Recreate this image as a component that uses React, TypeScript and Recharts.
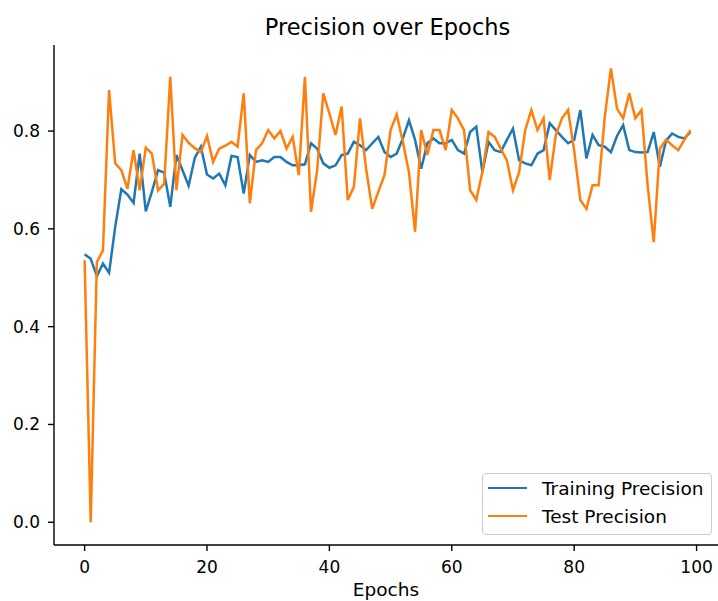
import { Legend, Line, LineChart, XAxis, YAxis } from "recharts";

// values, one per epoch (0..99)
const trainPrecision = [
  0.548, 0.539, 0.503, 0.529, 0.51, 0.604, 0.681, 0.67, 0.653, 0.754,
  0.636, 0.676, 0.72, 0.715, 0.645, 0.751, 0.72, 0.688, 0.745, 0.768,
  0.711, 0.703, 0.713, 0.689, 0.749, 0.747, 0.672, 0.751, 0.737, 0.74,
  0.737, 0.747, 0.747, 0.737, 0.73, 0.73, 0.732, 0.775, 0.764, 0.734,
  0.725, 0.73, 0.751, 0.754, 0.778, 0.771, 0.761, 0.775, 0.788, 0.757,
  0.747, 0.754, 0.785, 0.822, 0.782, 0.723, 0.775, 0.785, 0.775, 0.775,
  0.782, 0.761, 0.754, 0.798, 0.809, 0.716, 0.778, 0.761, 0.757, 0.782,
  0.805, 0.74, 0.734, 0.73, 0.754, 0.761, 0.816, 0.802, 0.788, 0.775,
  0.782, 0.843, 0.744, 0.792, 0.771, 0.768, 0.757, 0.79, 0.812, 0.761,
  0.757, 0.756, 0.757, 0.798, 0.727, 0.78, 0.795, 0.788, 0.785, 0.798,
];

const testPrecision = [
  0.536, 0.0, 0.532, 0.556, 0.884, 0.734, 0.72, 0.682, 0.761, 0.679,
  0.766, 0.754, 0.679, 0.692, 0.911, 0.679, 0.792, 0.776, 0.765, 0.757,
  0.79, 0.737, 0.764, 0.77, 0.778, 0.768, 0.877, 0.652, 0.761, 0.775,
  0.802, 0.785, 0.8, 0.764, 0.788, 0.71, 0.911, 0.635, 0.72, 0.877,
  0.836, 0.792, 0.85, 0.659, 0.686, 0.826, 0.723, 0.641, 0.676, 0.71,
  0.802, 0.834, 0.778, 0.716, 0.594, 0.802, 0.751, 0.802, 0.802, 0.761,
  0.843, 0.826, 0.802, 0.679, 0.659, 0.716, 0.798, 0.788, 0.764, 0.74,
  0.679, 0.716, 0.802, 0.843, 0.802, 0.826, 0.7, 0.792, 0.826, 0.843,
  0.76, 0.659, 0.641, 0.689, 0.689, 0.829, 0.928, 0.846, 0.826, 0.877,
  0.826, 0.843, 0.689, 0.573, 0.764, 0.782, 0.771, 0.761, 0.782, 0.802,
];

const seriesNames = ["Training Precision", "Test Precision"];
const xTicks = [0, 20, 40, 60, 80, 100];
const yTicks = [0, 0.2, 0.4, 0.6, 0.8];

const data = trainPrecision.map((train, epoch) => ({
  epoch,
  train,
  test: testPrecision[epoch],
}));

const FONT = "'DejaVu Sans', sans-serif";
const tickStyle = { fill: "#000", fontSize: 17, fontFamily: FONT };
const spine = { stroke: "#000", strokeWidth: 1.4 };

function LegendBox({ payload }: any) {
  // keep plotting order, not alphabetical
  const items = [...(payload || [])].sort(
    (a: any, b: any) => seriesNames.indexOf(a.value) - seriesNames.indexOf(b.value)
  );
  return (
    <div
      style={{
        boxSizing: "border-box",
        width: 230,
        height: 62,
        border: "1px solid #cccccc",
        borderRadius: 4,
        background: "rgba(255,255,255,0.8)",
        padding: "0 0 0 5px",
        fontFamily: FONT,
        fontSize: 18.5,
        color: "#000",
      }}
    >
      {items.map((item: any) => (
        <div key={item.value} style={{ display: "flex", alignItems: "center", height: 28, whiteSpace: "nowrap" }}>
          <span
            style={{ display: "inline-block", width: 39, borderTop: `2.5px solid ${item.color}`, marginRight: 15 }}
          />
          <span>{item.value}</span>
        </div>
      ))}
    </div>
  );
}

export default function App() {
  return (
    <div style={{ position: "absolute", left: 0, top: 0, width: 718, height: 601, background: "#fff", overflow: "hidden" }}>
      <div
        style={{
          position: "absolute",
          left: 54,
          top: 14,
          width: 667,
          height: 26,
          lineHeight: "26px",
          textAlign: "center",
          fontFamily: FONT,
          fontSize: 22.5,
          color: "#000",
        }}
      >
        Precision over Epochs
      </div>
      <LineChart width={718} height={601} data={data} margin={{ top: 45, right: 0, bottom: 0, left: 0 }}>
        <XAxis
          dataKey="epoch"
          type="number"
          domain={[-5.0, 103.5]}
          allowDataOverflow
          ticks={xTicks}
          height={56}
          tick={tickStyle}
          tickSize={6}
          tickMargin={10}
          tickLine={spine}
          axisLine={spine}
          label={{ value: "Epochs", position: "insideBottom", offset: 5, fill: "#000", fontSize: 18.5, fontFamily: FONT }}
        />
        <XAxis
          xAxisId="top"
          orientation="top"
          dataKey="epoch"
          type="number"
          domain={[-5.0, 103.5]}
          allowDataOverflow
          height={0}
          tick={false}
          tickLine={false}
          axisLine={spine}
        />
        <YAxis
          type="number"
          domain={[-0.0465, 0.976]}
          allowDataOverflow
          ticks={yTicks}
          width={54}
          tick={tickStyle}
          tickSize={6}
          tickMargin={8}
          tickLine={spine}
          axisLine={spine}
          tickFormatter={(v: number) => v.toFixed(1)}
        />
        <Legend
          layout="vertical"
          align="center"
          verticalAlign="middle"
          wrapperStyle={{ left: 482, top: 473, width: 230, height: 62 }}
          content={<LegendBox />}
        />
        <Line
          type="linear"
          dataKey="train"
          name="Training Precision"
          stroke="#1f77b4"
          strokeWidth={2.5}
          dot={false}
          isAnimationActive={false}
        />
        <Line
          type="linear"
          dataKey="test"
          name="Test Precision"
          stroke="#ff7f0e"
          strokeWidth={2.5}
          dot={false}
          isAnimationActive={false}
        />
      </LineChart>
    </div>
  );
}
